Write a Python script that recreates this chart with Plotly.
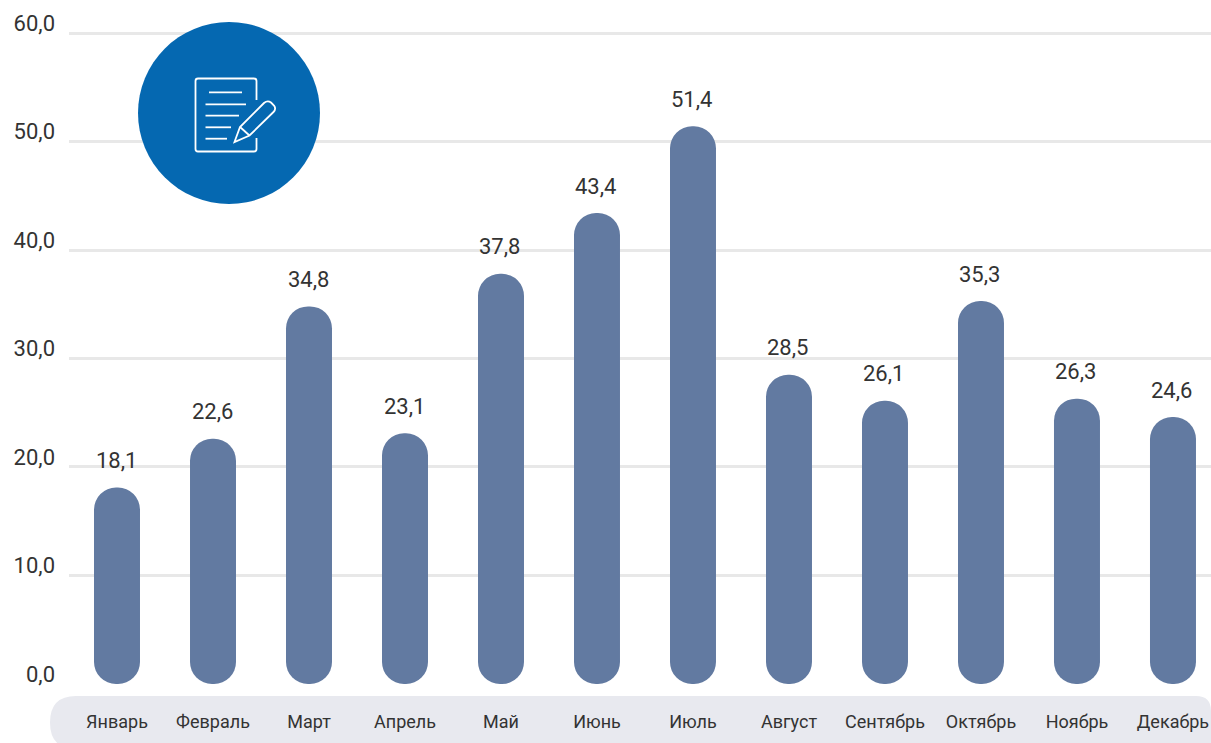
import plotly.graph_objects as go

months = ["Январь", "Февраль", "Март", "Апрель", "Май", "Июнь", "Июль", "Август", "Сентябрь", "Октябрь", "Ноябрь", "Декабрь"]
values = [18.1, 22.6, 34.8, 23.1, 37.8, 43.4, 51.4, 28.5, 26.1, 35.3, 26.3, 24.6]
y_ticks = [0, 10, 20, 30, 40, 50, 60]
y_tick_labels = ["0,0", "10,0", "20,0", "30,0", "40,0", "50,0", "60,0"]

W, H = 1211, 743
ML, MR, MT, MB = 69, 0, 20, 37
PW, PH = W - ML - MR, H - MT - MB
BAR = "#627aa1"
TEXT = "#333333"
FONT = "Roboto"


def px(x):
    return (x - ML) / PW


def py(y):
    return 1 - (y - MT) / PH


def path(cmds):
    out = []
    for c in cmds:
        if isinstance(c, str):
            out.append(c)
        else:
            out.append(f"{px(c[0]):.5f},{py(c[1]):.5f}")
    return " ".join(out)


def pshape(cmds, **kw):
    return dict(type="path", xref="paper", yref="paper", path=path(cmds), **kw)


fig = go.Figure()
# an explicit base makes Plotly round both ends of each bar
fig.add_trace(go.Bar(x=months, y=values, base=[0] * len(values), width=0.479,
                     marker=dict(color=BAR, cornerradius=23, line=dict(width=0)),
                     showlegend=False, hoverinfo="skip"))

annotations = [dict(x=m, y=v, xref="x", yref="y", text=f"{v:.1f}".replace(".", ","),
                    showarrow=False, yanchor="middle", yshift=27, xshift=-1,
                    font=dict(family=FONT, size=22, color=TEXT))
               for m, v in zip(months, values)]

white = dict(color="white", width=1.8)
shapes = [
    # band behind month labels
    pshape(["M", (76, 696), "L", (1196, 696), "Q", (1211, 696), (1211, 711), "L", (1211, 760), "L", (76, 760),
            "L", (76, 749), "Q", (50, 749), (50, 722.5), "Q", (50, 696), (76, 696), "Z"],
           fillcolor="#e8e9ef", line=dict(width=0), layer="below"),
    # circle badge
    dict(type="circle", xref="paper", yref="paper", x0=px(138), x1=px(320), y0=py(204), y1=py(22),
         fillcolor="#0568b1", line=dict(width=0), layer="above"),
    # document outline
    pshape(["M", (256.5, 100), "L", (256.5, 81), "Q", (256.5, 78.5), (254, 78.5), "L", (198, 78.5),
            "Q", (195.5, 78.5), (195.5, 81), "L", (195.5, 149), "Q", (195.5, 151.5), (198, 151.5),
            "L", (254, 151.5), "Q", (256.5, 151.5), (256.5, 149), "L", (256.5, 138)], line=white, layer="above"),
    # text lines
    pshape(["M", (209, 92.3), "L", (242, 92.3)], line=white, layer="above"),
    pshape(["M", (205.5, 104.3), "L", (246, 104.3)], line=white, layer="above"),
    pshape(["M", (205.5, 115.7), "L", (239, 115.7)], line=white, layer="above"),
    pshape(["M", (205.5, 127.3), "L", (231, 127.3)], line=white, layer="above"),
    pshape(["M", (205.5, 138.7), "L", (227, 138.7)], line=white, layer="above"),
    # pencil
    pshape(["M", (234.5, 142), "L", (240, 127), "L", (264, 103), "Q", (267.5, 100), (271, 102.5),
            "L", (274, 105.5), "Q", (276.5, 109), (273.5, 112), "L", (249.5, 135.5), "Z"], line=white, layer="above"),
    pshape(["M", (240, 127), "L", (249.5, 135.5)], line=white, layer="above"),
]

fig.update_layout(
    width=W, height=H, margin=dict(l=ML, r=MR, t=MT, b=MB),
    paper_bgcolor="white", plot_bgcolor="white",
    showlegend=False, annotations=annotations, shapes=shapes,
    font=dict(family=FONT, color=TEXT),
    xaxis=dict(type="category", categoryorder="array", categoryarray=months,
               range=[-0.5, 11.396], showgrid=False, zeroline=False, showline=False,
               ticks="", ticklabelstandoff=3, tickfont=dict(family=FONT, size=18, color=TEXT)),
    yaxis=dict(range=[-2.03, 61.2], tickvals=y_ticks, ticktext=y_tick_labels,
               showgrid=True, gridcolor="#e8e8e8", gridwidth=3,
               zeroline=True, zerolinecolor="rgba(0,0,0,0)", showline=False,
               ticks="", ticklabelstandoff=13, ticklabelshift=-10,
               tickfont=dict(family=FONT, size=22, color=TEXT)),
)

fig.write_html("out.html", config=dict(displayModeBar=False),
               post_script="document.body.style.margin='0';document.body.style.overflow='hidden';")
